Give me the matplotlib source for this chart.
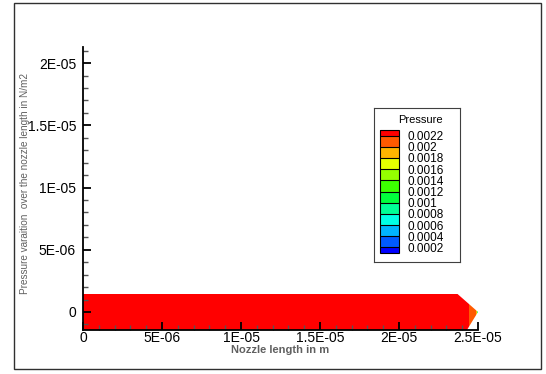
import numpy as np
import matplotlib
matplotlib.use('Agg')
import matplotlib.pyplot as plt
from matplotlib.colors import ListedColormap, BoundaryNorm
from matplotlib.patches import Polygon, Rectangle
from matplotlib.ticker import MultipleLocator, FuncFormatter

plt.rcParams['font.family'] = ['Liberation Sans', 'DejaVu Sans']

# nozzle outline (m)
nozzle_x = [0.0, 2.37e-5, 2.5e-5, 2.43e-5, 0.0]
nozzle_y = [1.45e-6, 1.45e-6, 0.0, -1.45e-6, -1.45e-6]

# pressure along the nozzle length (N/m2)
station_x = [0.0, 1e-5, 2e-5, 2.42e-5, 2.45e-5, 2.49e-5, 2.5e-5]
pressure = [0.0025, 0.0025, 0.0025, 0.0024, 0.0021, 0.00205, 0.0007]

levels = [0.0002, 0.0004, 0.0006, 0.0008, 0.001, 0.0012,
          0.0014, 0.0016, 0.0018, 0.002, 0.0022]
level_colors = ['#005aff', '#00b4ff', '#00ffe6', '#00ff96', '#00ff3c',
                '#3cff00', '#96ff00', '#e6ff00', '#ffb400', '#ff5a00']


def fmt_tick(v, pos):
  if abs(v) < 1e-12:
    return '0'
  m, e = ('%.1E' % v).split('E')
  m = m.rstrip('0').rstrip('.')
  return '%sE-%02d' % (m, -int(e))


fig = plt.figure(figsize=(5.46, 3.74), dpi=100)
fig.patches.append(Rectangle((14 / 546, 1 - 369 / 374), 527 / 546, 366 / 374,
                             transform=fig.transFigure, fill=False,
                             edgecolor='#303030', lw=1, zorder=-1))

ax = fig.add_axes([83 / 546, 1 - 330 / 374, 395 / 546, 283 / 374])

cmap = ListedColormap(level_colors)
cmap.set_over('#ff0000')
cmap.set_under('#0000ff')
norm = BoundaryNorm(levels, cmap.N)

X = np.array(station_x)
Y = np.array([-1.45e-6, 1.45e-6])
Z = np.tile(pressure, (2, 1))
cs = ax.contourf(X, Y, Z, levels=levels, cmap=cmap, norm=norm, extend='both')
outline = Polygon(np.column_stack([nozzle_x, nozzle_y]), closed=True,
                  facecolor='none', edgecolor='none')
ax.add_patch(outline)
cs.set_clip_path(outline)

ax.set_xlim(0, 2.5e-5)
ax.set_ylim(-1.45e-6, 2.13e-5)
for s in ['top', 'right']:
  ax.spines[s].set_visible(False)
for s in ['left', 'bottom']:
  ax.spines[s].set_linewidth(1.3)

ax.xaxis.set_major_locator(MultipleLocator(5e-6))
ax.xaxis.set_minor_locator(MultipleLocator(1e-6))
ax.yaxis.set_major_locator(MultipleLocator(5e-6))
ax.yaxis.set_minor_locator(MultipleLocator(1e-6))
ax.xaxis.set_major_formatter(FuncFormatter(fmt_tick))
ax.yaxis.set_major_formatter(FuncFormatter(fmt_tick))
ax.tick_params(which='major', direction='in', length=6, width=1.3,
               labelsize=10)
ax.tick_params(axis='x', which='major', pad=1)
ax.tick_params(axis='y', which='major', pad=5)
ax.tick_params(which='minor', direction='in', length=3.5, width=1,
               color='#555555')

ax.set_xlabel('Nozzle length in m', fontsize=8, fontweight='bold',
              color='#606060')
ax.xaxis.set_label_coords(0.5, -20 / 283)
ax.xaxis.label.set_va('center')
ax.set_ylabel('Pressure varaition  over the nozzle length in N/m2',
              fontsize=7.2, color='#606060')
ax.yaxis.set_label_coords(-58 / 395, 146 / 283)
ax.yaxis.label.set_va('center')

# legend box
lax = fig.add_axes([374 / 546, 1 - 262 / 374, 86 / 546, 154 / 374])
lax.set_xticks([])
lax.set_yticks([])
for s in lax.spines.values():
  s.set_linewidth(0.8)
  s.set_edgecolor('#404040')
fig.text(443 / 546, 1 - 120 / 374, 'Pressure', ha='right', va='center',
         fontsize=8)
cax = fig.add_axes([380 / 546, 1 - 253 / 374, 19 / 546, 123 / 374])
cb = fig.colorbar(cs, cax=cax, ticks=levels, extend='both', extendrect=True,
                  extendfrac=0.05, drawedges=True)
cb.outline.set_linewidth(0.8)
cb.dividers.set_linewidth(0.8)
cb.ax.tick_params(length=0, labelsize=8.5, pad=6)
cb.ax.set_yticklabels([('%.4f' % v).rstrip('0') for v in levels])

plt.savefig('out.png', dpi=100)
